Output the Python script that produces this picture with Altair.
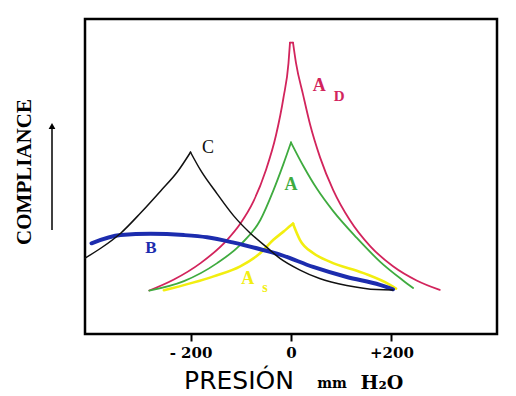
import altair as alt
import pandas as pd

# ---- data (x: mm H2O, y: relative compliance 0-100) ----
ad_x = [-282, -233, -180, -127, -101, -75, -50, -30, -15, -5, -2, 4, 10, 24, 38, 58, 84, 117, 157, 203, 250, 296]
ad_y = [13.8, 17.3, 22.5, 29.9, 35.0, 42.0, 52.0, 63.0, 75.0, 86.0, 92.5, 92.5, 86.0, 76.0, 66.5, 56.0, 45.7, 36.2, 28.0, 21.5, 17.0, 14.0]

a_x = [-282, -213, -147, -101, -61, -35, -15, 0, 24, 52, 84, 131, 177, 223, 243]
a_y = [13.8, 16.8, 22.5, 28.3, 36.2, 45.6, 54.0, 60.8, 53.5, 46.0, 39.0, 30.5, 23.0, 17.0, 14.6]

as_x = [-253, -154, -101, -61, -35, -15, 0, 4, 18, 44, 78, 143, 197, 209]
as_y = [13.9, 18.3, 21.5, 25.7, 29.9, 32.5, 34.5, 35.0, 29.8, 25.7, 22.9, 19.4, 15.6, 14.4]

b_x = [-397, -339, -279, -213, -167, -114, -61, -22, 44, 111, 177, 203]
b_y = [28.8, 31.4, 31.8, 31.4, 30.7, 29.0, 26.9, 25.2, 21.3, 18.1, 15.6, 14.2]

c_x = [-410, -378, -339, -299, -259, -226, -200, -180, -147, -114, -81, -48, -22, 18, 57, 111, 171, 203]
c_y = [24.1, 27.3, 32.0, 38.5, 45.5, 51.5, 57.7, 52.0, 44.5, 37.5, 32.0, 27.5, 24.0, 20.3, 17.6, 15.4, 14.1, 14.0]

# x where each curve's rising branch ends and falling branch starts (peak)
peak_left = [-2, 0, 4, 999, -200]
peak_right = [4, 0, 4, 999, -200]

series_names = ["AD", "A", "AS", "B", "C"]
series_colors = ["#d2245c", "#3fab3f", "#f2ee10", "#1c2cae", "#111111"]
series_widths = [1.8, 1.8, 2.6, 4.0, 1.5]

# labels: text, x, y (data units), colour, size
label_text = ["C", "A", "D", "A", "B", "A", "s"]
label_x = [-165, 56, 96, 0, -279, -86, -52]
label_y = [59.0, 78.7, 75.6, 47.3, 27.3, 17.5, 14.6]
label_color = ["#111111", "#d2245c", "#d2245c", "#3fab3f", "#1c2cae", "#f2ee10", "#f2ee10"]
label_size = [18, 18, 15, 18, 17, 18, 14]
label_weight = ["normal", "bold", "bold", "bold", "bold", "bold", "bold"]

tick_values = [-200, 0, 200]
tick_labels = ["- 200", "0", "+200"]

# ---- build tables ----
rows = []
for k, (name, xs, ys) in enumerate(zip(series_names, [ad_x, a_x, as_x, b_x, c_x], [ad_y, a_y, as_y, b_y, c_y])):
    for i, (xv, yv) in enumerate(zip(xs, ys)):
        if xv <= peak_left[k]:
            rows.append({"s": name, "x": xv, "y": yv, "i": i, "br": "L"})
        if xv >= peak_left[k] and xv <= peak_right[k]:
            rows.append({"s": name, "x": xv, "y": yv, "i": i, "br": "M"})
        if xv >= peak_right[k]:
            rows.append({"s": name, "x": xv, "y": yv, "i": i, "br": "R"})
df = pd.DataFrame(rows)

lab = pd.DataFrame({"t": label_text, "x": label_x, "y": label_y, "c": label_color,
                    "fs": label_size, "w": label_weight})

label_expr = " : ".join(
    f"datum.value == {v} ? '{t}'" for v, t in zip(tick_values, tick_labels)
) + " : ''"

xscale = alt.Scale(domain=[-410, 410], nice=False, zero=False)
yscale = alt.Scale(domain=[0, 100], nice=False, zero=False)
xaxis = alt.Axis(values=tick_values, labelExpr=label_expr, title=None,
                 domain=False, grid=False, tickSize=7, tickWidth=2,
                 tickColor="black", labelFont="DejaVu Serif",
                 labelFontWeight="bold", labelFontSize=15,
                 labelColor="black", labelPadding=4)
X = alt.X("x:Q", scale=xscale, axis=xaxis)
Y = alt.Y("y:Q", scale=yscale, axis=None)

layers = []
for idx, name in enumerate(series_names):
    sub = df[df.s == name]
    layers.append(
        alt.Chart(sub).mark_line(color=series_colors[idx], strokeWidth=series_widths[idx],
                                 interpolate="monotone", strokeJoin="round",
                                 strokeCap="round").encode(
            x=X, y=Y, detail="br:N", order="i:Q")
    )

labels = []
for i in range(len(lab)):
    r = lab.iloc[[i]]
    labels.append(
        alt.Chart(r).mark_text(font="Liberation Serif", fontSize=int(r.fs.iloc[0]),
                               fontWeight=r.w.iloc[0], color=r.c.iloc[0],
                               align="center", baseline="middle").encode(
            x=X, y=Y, text="t:N")
    )

# annotations outside plot (axis titles, arrow, outer frame)
one = pd.DataFrame({"k": [0]})
ylab = alt.Chart(one).mark_text(text="COMPLIANCE", font="Liberation Serif", fontWeight="bold",
                                fontSize=21, angle=270, align="center", baseline="middle",
                                color="black").encode(x=alt.value(-60), y=alt.value(153))
arrow_line = alt.Chart(one).mark_rule(color="black", strokeWidth=1.5).encode(
    x=alt.value(-33), y=alt.value(108), y2=alt.value(211))
arrow_head = alt.Chart(one).mark_point(shape="triangle-up", filled=True, color="black",
                                       size=45, opacity=1).encode(x=alt.value(-33), y=alt.value(107))
xtitle1 = alt.Chart(one).mark_text(text="PRESIÓN", font="DejaVu Sans", fontSize=25,
                                   align="center", baseline="alphabetic", color="black").encode(
    x=alt.value(154), y=alt.value(370))
xtitle2 = alt.Chart(one).mark_text(text="mm", font="DejaVu Serif", fontWeight="bold",
                                   fontSize=14, align="center", baseline="alphabetic",
                                   color="black").encode(x=alt.value(247), y=alt.value(369))
xtitle3 = alt.Chart(one).mark_text(text="H₂O", font="DejaVu Serif", fontWeight="bold",
                                   fontSize=19, align="center", baseline="alphabetic",
                                   color="black").encode(x=alt.value(297), y=alt.value(370))
frame_left = alt.Chart(one).mark_rule(color="#777777", strokeWidth=1.5).encode(
    x=alt.value(-78), y=alt.value(-14), y2=alt.value(400))
frame_top = alt.Chart(one).mark_rule(color="#777777", strokeWidth=1.5).encode(
    x=alt.value(-78), x2=alt.value(440), y=alt.value(-14))

chart = alt.layer(*layers, *labels, ylab, arrow_line, arrow_head, xtitle1, xtitle2, xtitle3,
                  frame_left, frame_top).properties(
    width=412, height=315,
    autosize=alt.AutoSizeParams(type="none"),
    padding={"left": 77, "top": 11, "right": 11, "bottom": 62},
    background="white",
).configure_view(stroke="black", strokeWidth=2.5)

chart.save("out.html", embed_options={"renderer": "svg", "actions": False})
